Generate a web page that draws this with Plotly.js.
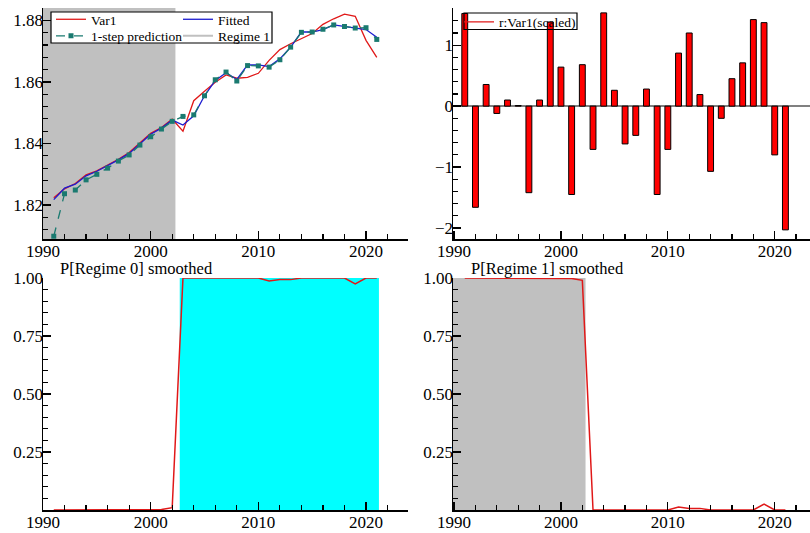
<!DOCTYPE html>
<html>
<head>
<meta charset="utf-8">
<script src="https://cdn.plot.ly/plotly-3.0.1.min.js"></script>
<style>html,body{margin:0;padding:0;background:#fff;}#chart{width:810px;height:533px;}</style>
</head>
<body>
<div id="chart"></div>
<script>
var years = [1991,1992,1993,1994,1995,1996,1997,1998,1999,2000,2001,2002,2003,2004,2005,2006,2007,2008,2009,2010,2011,2012,2013,2014,2015,2016,2017,2018,2019,2020,2021];
var var1 = [1.8224,1.8253,1.8270,1.8298,1.8311,1.8330,1.8349,1.8371,1.8403,1.8433,1.8452,1.8479,1.8440,1.8539,1.8570,1.8599,1.8623,1.8612,1.8615,1.8628,1.8670,1.8705,1.8724,1.8740,1.8757,1.8787,1.8805,1.8820,1.8813,1.8735,1.8680];
var fitted = [1.8218,1.8255,1.8268,1.8295,1.8310,1.8328,1.8347,1.8368,1.8400,1.8430,1.8450,1.8476,1.8460,1.8490,1.8555,1.8605,1.8630,1.8608,1.8655,1.8655,1.8650,1.8675,1.8713,1.8762,1.8762,1.8770,1.8785,1.8780,1.8775,1.8770,1.8745];
var prediction = [1.8099,1.8237,1.8249,1.8282,1.8300,1.8320,1.8343,1.8363,1.8395,1.8422,1.8447,1.8472,1.8488,1.8493,1.8555,1.8607,1.8632,1.8603,1.8653,1.8652,1.8648,1.8672,1.8713,1.8761,1.8762,1.8771,1.8785,1.8780,1.8775,1.8776,1.8738];
var residScaled = [1.52,-1.66,0.355,-0.12,0.10,0.01,-1.42,0.10,1.38,0.64,-1.45,0.68,-0.71,1.53,0.26,-0.62,-0.48,0.28,-1.45,-0.71,0.87,1.20,0.19,-1.07,-0.20,0.45,0.71,1.42,1.37,-0.80,-2.03];
var pRegime0 = [0,0,0,0,0,0,0,0,0,0,0.002,0.01,1,1,1,1,1,1,1,1,0.987,0.993,0.993,1,1,1,1,1,0.975,1,1];
var pRegime1 = [1,1,1,1,1,1,1,1,1,1,0.998,0.99,0,0,0,0,0,0,0,0,0.013,0.007,0.007,0,0,0,0,0,0.025,0,0];
var regime1Period = [1989.9, 2002.3];
var regime0Period = [2002.7, 2021.2];
var yTicksProb = [0.25, 0.5, 0.75, 1.0];
var yTextProb = ["0.25", "0.50", "0.75", "1.00"];

var FONT = "Liberation Serif";
var red = "#e01818", blue = "#1c1cd0", teal = "#1a7a70";

var traces = [
  {x: years, y: var1, type: "scatter", mode: "lines", name: "Var1", line: {color: red, width: 1.3}, xaxis: "x", yaxis: "y", legend: "legend"},
  {x: years, y: fitted, type: "scatter", mode: "lines", name: "Fitted", line: {color: blue, width: 1.3}, xaxis: "x", yaxis: "y", legend: "legend"},
  {x: years, y: prediction, type: "scatter", mode: "lines+markers", name: "1-step prediction", line: {color: teal, width: 1.3, dash: "dash"}, marker: {symbol: "square", size: 5, color: teal}, xaxis: "x", yaxis: "y", legend: "legend3"},
  {x: [null], y: [null], type: "scatter", mode: "lines", name: "Regime 1", line: {color: "#c0c0c0", width: 2}, xaxis: "x", yaxis: "y", legend: "legend3"},
  {x: years, y: residScaled, type: "bar", name: "r:Var1(scaled)", width: 0.55, marker: {color: "#ff0000", line: {color: "#000", width: 1}}, xaxis: "x2", yaxis: "y2", showlegend: false},
  {x: [null], y: [null], type: "scatter", mode: "lines", name: "r:Var1(scaled)", line: {color: red, width: 1.3}, xaxis: "x2", yaxis: "y2", legend: "legend2"},
  {x: years, y: pRegime0, type: "scatter", mode: "lines", name: "P[Regime 0] smoothed", line: {color: red, width: 1.5}, xaxis: "x3", yaxis: "y3", showlegend: false},
  {x: years, y: pRegime1, type: "scatter", mode: "lines", name: "P[Regime 1] smoothed", line: {color: red, width: 1.5}, xaxis: "x4", yaxis: "y4", showlegend: false}
];

function tickFont() { return {family: FONT, size: 17, color: "#000"}; }

function xax(domain, range, anchor) {
  return {domain: domain, range: range, anchor: anchor, showgrid: false, zeroline: false,
    showline: true, linecolor: "#000", linewidth: 1.5, ticks: "inside", ticklen: 8, tickwidth: 1.3, tickcolor: "#000",
    tickmode: "linear", tick0: 1990, dtick: 10, ticklabelstandoff: -4,
    minor: {dtick: 2, ticks: "inside", ticklen: 5, tickwidth: 1.2, tickcolor: "#000"},
    tickfont: tickFont(), fixedrange: true};
}
function yax(domain, range, anchor, extra) {
  var o = {domain: domain, range: range, anchor: anchor, showgrid: false, zeroline: false,
    showline: true, linecolor: "#000", linewidth: 1.5, ticks: "inside", ticklen: 8, tickwidth: 1.3, tickcolor: "#000",
    ticklabelstandoff: -5, tickfont: tickFont(), fixedrange: true};
  for (var k in extra) o[k] = extra[k];
  return o;
}

var xL = [43/810, 408/810], xR = [453/810, 1.0];
var yT = [(533-239)/533, (533-8)/533], yB = [(533-510)/533, (533-278)/533];
var legFont = {family: FONT, size: 13.5, color: "#000"};

var layout = {
  width: 810, height: 533, margin: {l: 0, r: 0, t: 0, b: 0},
  paper_bgcolor: "#fff", plot_bgcolor: "rgba(0,0,0,0)",
  font: {family: FONT, size: 16, color: "#000"},
  showlegend: true,
  xaxis: xax(xL, [1990, 2023.9], "y"),
  yaxis: yax(yT, [1.809, 1.884], "x", {tickmode: "linear", tick0: 1.82, dtick: 0.02, tickformat: ".2f",
    minor: {dtick: 0.004, ticks: "inside", ticklen: 5, tickwidth: 1.2, tickcolor: "#000"}}),
  xaxis2: xax(xR, [1989.9, 2023.3], "y2"),
  yaxis2: yax(yT, [-2.18, 1.61], "x2", {tickmode: "linear", tick0: 0, dtick: 1, zeroline: true, zerolinecolor: "#808080", zerolinewidth: 1.5,
    minor: {dtick: 0.2, ticks: "inside", ticklen: 5, tickwidth: 1.2, tickcolor: "#000"}}),
  xaxis3: xax(xL, [1990, 2023.9], "y3"),
  yaxis3: yax(yB, [0, 1], "x3", {tickmode: "array", tickvals: yTicksProb, ticktext: yTextProb,
    minor: {dtick: 0.05, ticks: "inside", ticklen: 5, tickwidth: 1.2, tickcolor: "#000"}}),
  xaxis4: xax(xR, [1989.9, 2023.3], "y4"),
  yaxis4: yax(yB, [0, 1], "x4", {tickmode: "array", tickvals: yTicksProb, ticktext: yTextProb,
    minor: {dtick: 0.05, ticks: "inside", ticklen: 5, tickwidth: 1.2, tickcolor: "#000"}}),
  shapes: [
    {type: "rect", xref: "x", yref: "y domain", x0: regime1Period[0], x1: regime1Period[1], y0: 0, y1: 1, fillcolor: "#c0c0c0", line: {width: 0}, layer: "below"},
    {type: "rect", xref: "x3", yref: "y3", x0: regime0Period[0], x1: regime0Period[1], y0: 0, y1: 1, fillcolor: "#00ffff", line: {width: 0}, layer: "below"},
    {type: "rect", xref: "x4", yref: "y4", x0: regime1Period[0], x1: regime1Period[1], y0: 0, y1: 1, fillcolor: "#c0c0c0", line: {width: 0}, layer: "below"},
    {type: "rect", xref: "paper", yref: "paper", x0: 51/810, x1: 272/810, y0: (533-43)/533, y1: (533-12)/533, fillcolor: "#fff", line: {color: "#000", width: 1.2}, layer: "above"},
    {type: "rect", xref: "paper", yref: "paper", x0: 464/810, x1: 577/810, y0: (533-29.5)/533, y1: (533-13)/533, fillcolor: "rgba(0,0,0,0)", line: {color: "#000", width: 1.2}, layer: "above"}
  ],
  annotations: [
    {text: "P[Regime 0] smoothed", xref: "paper", yref: "paper", x: 58/810, y: (533-268)/533, xanchor: "left", yanchor: "middle", showarrow: false, font: {family: FONT, size: 16.5, color: "#000"}},
    {text: "P[Regime 1] smoothed", xref: "paper", yref: "paper", x: 469/810, y: (533-268)/533, xanchor: "left", yanchor: "middle", showarrow: false, font: {family: FONT, size: 16.5, color: "#000"}}
  ],
  legend: {x: 51/810, y: (533-4)/533, xanchor: "left", yanchor: "top", orientation: "h",
    bgcolor: "rgba(0,0,0,0)", borderwidth: 0, font: legFont, itemwidth: 30, entrywidth: 82, entrywidthmode: "pixels"},
  legend3: {x: 51/810, y: (533-20.5)/533, xanchor: "left", yanchor: "top", orientation: "h",
    bgcolor: "rgba(0,0,0,0)", borderwidth: 0, font: legFont, itemwidth: 30, entrywidth: 82, entrywidthmode: "pixels"},
  legend2: {x: 459/810, y: (533-6.5)/533, xanchor: "left", yanchor: "top",
    bgcolor: "rgba(0,0,0,0)", borderwidth: 0, font: legFont, itemwidth: 30}
};

Plotly.newPlot("chart", traces, layout, {displayModeBar: false, staticPlot: true});
</script>
</body>
</html>
